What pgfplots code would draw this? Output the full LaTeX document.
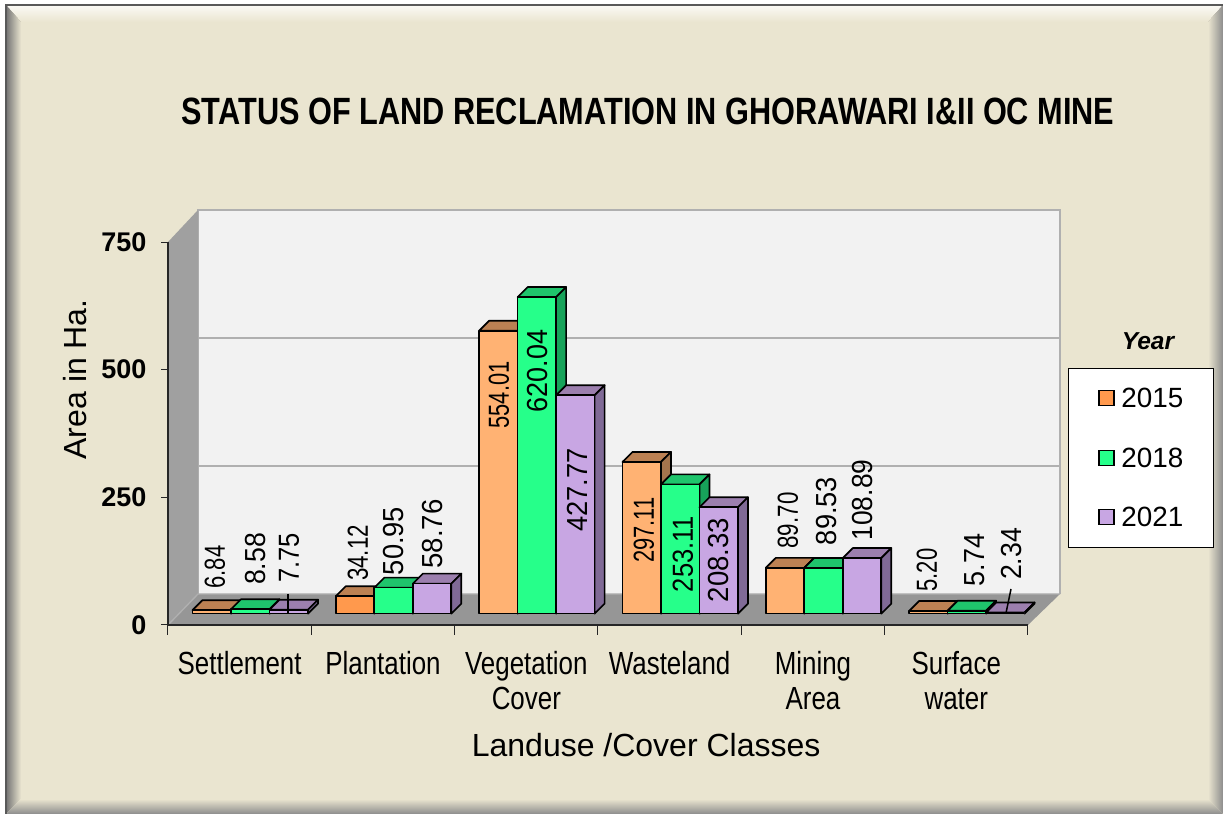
\documentclass[border=0pt]{standalone}
\usepackage{fontspec}
\setmainfont{Liberation Sans}
\usepackage{pgfplots}
\pgfplotsset{compat=1.18}
\definecolor{cardbg}{HTML}{EAE5D0}
\definecolor{ofront}{HTML}{FFB273}
\definecolor{ofrontb}{HTML}{FF994D}
\definecolor{oside}{HTML}{A5754D}
\definecolor{otop}{HTML}{BC8153}
\definecolor{gfront}{HTML}{26FF8A}
\definecolor{gside}{HTML}{17A35A}
\definecolor{gtop}{HTML}{1FC46C}
\definecolor{pfront}{HTML}{C8A6E3}
\definecolor{pside}{HTML}{806A96}
\definecolor{ptop}{HTML}{9C7FAE}
\definecolor{wallc}{HTML}{F2F2F2}
\definecolor{floorc}{HTML}{969696}
\definecolor{sidec}{HTML}{A0A0A0}
\definecolor{gridc}{HTML}{B0B0B0}

% 1 px of the reference = 0.6pt
\pgfplotsset{
  boxpart/.style={xshift=7.5pt,yshift=6.8pt,draw=black,line width=1pt,line join=round,forget plot},
}
% #1 left x, #2 value, #3 front, #4 side, #5 top
\newcommand\barbox[5]{%
  \pgfmathsetmacro\xb{#1+0.2686}%
  \pgfmathsetmacro\xc{#1+0.0698}%
  \pgfmathsetmacro\xd{#1+0.3384}%
  \pgfmathsetmacro\xm{#1+0.1343}%
  \pgfmathsetmacro\yb{#2+19.58}%
  \edef\temp{%
    \noexpand\addplot[boxpart,fill=#5] coordinates {(#1,#2)(\xc,\yb)(\xd,\yb)(\xb,#2)} --cycle;
    \noexpand\addplot[boxpart,fill=#4] coordinates {(\xb,0)(\xb,#2)(\xd,\yb)(\xd,19.58)} --cycle;
    \noexpand\addplot[boxpart,ybar,bar width=23.1pt,bar shift=0pt,fill=#3] coordinates {(\xm,#2)};
  }\temp
}
% #1 x, #2 y in reference px, #3 text, #4 stretch along the text
\newcommand\vlab[4]{\node[rotate=90,font=\fontsize{17.4}{19}\selectfont] at (#1,814-#2) {\scalebox{#4}[1]{#3}};}
\newcommand\nr[1]{\scalebox{0.81}[1]{#1}}

\begin{document}
\begin{tikzpicture}[x=0.6pt,y=0.6pt]
\useasboundingbox (0,0) rectangle (1223,814);
% card
\fill[white] (0,0) rectangle (1223,814);
\fill[cardbg] (6,0) rectangle (1223,809);
\fill[top color=cardbg!20!white,bottom color=cardbg] (6,809) -- (1223,809) -- (1208,792) -- (21,792) -- cycle;
\shade[left color=black!55,right color=cardbg] (6,0) -- (6,809) -- (21,792) -- (21,15) -- cycle;
\shade[left color=cardbg,right color=black!45] (1208,15) -- (1208,792) -- (1223,809) -- (1223,0) -- cycle;
\shade[bottom color=black!45,top color=cardbg] (6,0) -- (1223,0) -- (1208,15) -- (21,15) -- cycle;
\draw[black!65,line width=1.2pt] (6,0) -- (6,809) -- (1223,809);
% walls
\fill[wallc] (198,220) rectangle (1060,604);
\draw[gridc,line width=1.2pt] (198,476) -- (1060,476) (198,348) -- (1060,348);
\draw[gridc,line width=1.2pt] (198,220) -- (198,604) -- (1060,604) -- (1060,220);
\fill[sidec] (168,189) -- (168,572) -- (198,604) -- (198,220) -- cycle;
\fill[floorc] (168,189) -- (198,220) -- (1060,220) -- (1028,189) -- cycle;
\draw[gridc,line width=0.8pt] (168,189) -- (198,220) -- (1060,220);
% legend box
\draw[black,fill=white,line width=0.6pt] (1068,266) rectangle (1213,445);
\node[font=\fontsize{14.7}{17}\selectfont\bfseries\itshape] at (1148,473) {Year};
\begin{axis}[
  at={(100.8pt,113.4pt)}, anchor=south west,
  scale only axis, width=516pt, height=229.8pt,
  xmin=0, xmax=6, ymin=0, ymax=750,
  clip=false,
  axis x line=bottom, axis y line=left,
  axis line style={-, black!85, line width=0.9pt},
  xtick={0.5,1.5,2.5,3.5,4.5,5.5},
  xticklabels={\nr{Settlement},\nr{Plantation},{\nr{Vegetation}\\\nr{Cover}},\nr{Wasteland},{\nr{Mining}\\\nr{Area}},{\nr{Surface}\\\nr{water}}},
  minor xtick={0,1,2,3,4,5,6},
  ytick={0,250,500,750},
  tick align=outside,
  major tick length=4pt, minor tick length=6pt,
  xtick style={draw=none},
  minor x tick style={draw=black!85,line width=0.6pt},
  ytick style={draw=black!85,line width=0.6pt},
  x tick label style={font=\fontsize{19.2}{21}\selectfont,align=center,yshift=-8pt},
  y tick label style={font=\fontsize{16.2}{18}\selectfont\bfseries,xshift=-5.4pt},
  /pgf/number format/assume math mode=true,
  xlabel={Landuse /Cover Classes},
  ylabel={Area in Ha.},
  every axis x label/.style={at={(axis description cs:0.556,0)},yshift=-72pt,anchor=center,font=\fontsize{19.2}{22}\selectfont},
  every axis y label/.style={at={(axis description cs:0,0.6415)},xshift=-55.8pt,rotate=90,anchor=center,font=\fontsize{19.2}{22}\selectfont},
  title={\scalebox{0.808}[1]{STATUS OF LAND RECLAMATION IN GHORAWARI I\&II OC MINE}},
  every axis title/.style={at={(axis description cs:0.5581,1)},yshift=78.6pt,anchor=center,font=\fontsize{22.8}{26}\selectfont\bfseries},
]
% 2015
\barbox{0.0837}{6.84}{ofront}{oside}{otop}
\barbox{1.0837}{34.12}{ofrontb}{oside}{otop}
\barbox{2.0837}{554.01}{ofront}{oside}{otop}
\barbox{3.0837}{297.11}{ofront}{oside}{otop}
\barbox{4.0837}{89.70}{ofront}{oside}{otop}
\barbox{5.0837}{5.20}{ofront}{oside}{otop}
% 2018
\barbox{0.3523}{8.58}{gfront}{gside}{gtop}
\barbox{1.3523}{50.95}{gfront}{gside}{gtop}
\barbox{2.3523}{620.04}{gfront}{gside}{gtop}
\barbox{3.3523}{253.11}{gfront}{gside}{gtop}
\barbox{4.3523}{89.53}{gfront}{gside}{gtop}
\barbox{5.3523}{5.74}{gfront}{gside}{gtop}
% 2021
\barbox{0.6209}{7.75}{pfront}{pside}{ptop}
\barbox{1.6209}{58.76}{pfront}{pside}{ptop}
\barbox{2.6209}{427.77}{pfront}{pside}{ptop}
\barbox{3.6209}{208.33}{pfront}{pside}{ptop}
\barbox{4.6209}{108.89}{pfront}{pside}{ptop}
\barbox{5.6209}{2.34}{pfront}{pside}{ptop}
\end{axis}
% legend
\foreach \yy/\cc/\tt in {416/ofrontb/2015,356/gfront/2018,297/pfront/2021}{
  \draw[black,fill=\cc,line width=0.9pt] (1099,\yy-7.5) rectangle (1114,\yy+7.5);
  \node[anchor=west,inner sep=0pt,font=\fontsize{16.7}{19}\selectfont] at (1121,\yy) {\tt};
}
% value labels
\vlab{215}{567}{6.84}{0.76}
\vlab{256}{559}{8.58}{0.92}
\vlab{289}{558}{7.75}{0.88}
\vlab{358}{553}{34.12}{0.77}
\vlab{394}{541}{50.95}{0.94}
\vlab{433}{534}{58.76}{0.95}
\vlab{499}{395}{554.01}{0.755}
\vlab{538}{371}{620.04}{0.93}
\vlab{577}{490}{427.77}{0.94}
\vlab{644}{530}{297.11}{0.755}
\vlab{683}{554}{253.11}{0.88}
\vlab{719}{560}{208.33}{0.95}
\vlab{788}{520.5}{89.70}{0.77}
\vlab{827}{511}{89.53}{0.94}
\vlab{863}{500}{108.89}{0.91}
\vlab{927}{570}{5.20}{0.76}
\vlab{975}{560}{5.74}{0.93}
\vlab{1012}{554}{2.34}{0.92}
\draw[black,line width=0.9pt] (288,220) -- (288,201);
\draw[black,line width=0.9pt] (1011,225) -- (1006,201);
\end{tikzpicture}
\end{document}
